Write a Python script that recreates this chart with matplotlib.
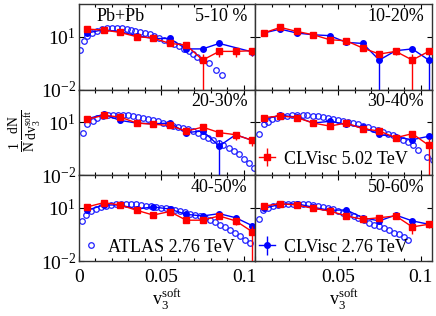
import numpy as np
import matplotlib.pyplot as plt

plt.rcParams['font.family'] = ['Liberation Serif', 'DejaVu Serif']
plt.rcParams['mathtext.fontset'] = 'stix'

centralities = ['5-10 %', '10-20%', '20-30%', '30-40%', '40-50%', '50-60%']
v3_bins = [0.005, 0.015, 0.025, 0.035, 0.045, 0.055, 0.065, 0.075, 0.085, 0.095, 0.105, 0.115]

# CLVisc 5.02 TeV, log10(1/N dN/dv3)
clv502_5_10 = [1.43, 1.38, 1.24, 1.00, 0.93, 0.62, 0.53, -0.32, 0.17, 0.17, 0.21, 0.21]
clv502_10_20 = [1.21, 1.53, 1.30, 1.11, 0.83, 0.77, 0.36, 0.02, 0.17, -0.32, 0.17, 0.13]
clv502_20_30 = [1.17, 1.40, 1.30, 0.96, 0.89, 0.83, 0.50, 0.73, 0.42, 0.30, -0.02, -0.15]
clv502_30_40 = [1.27, 1.36, 1.27, 0.96, 0.79, 0.96, 0.64, 0.51, 0.13, 0.36, -0.30, 0.10]
clv502_40_50 = [1.06, 1.30, 1.17, 0.87, 0.60, 0.80, 0.31, 0.31, 0.55, 0.27, -0.34, 0.00]
clv502_50_60 = [1.11, 1.24, 1.17, 0.98, 0.83, 0.55, 0.36, 0.45, 0.55, -0.07, 0.08, -0.10]

# relative errors (sigma / value)
err502_5_10 = [0.05, 0.05, 0.05, 0.08, 0.1, 0.15, 0.2, 1.2, 0.5, 0.5, 0.5, 0.5]
err502_10_20 = [0.05, 0.05, 0.05, 0.08, 0.1, 0.1, 0.2, 0.3, 0.4, 1.2, 0.3, 0.3]
err502_20_30 = [0.05, 0.05, 0.05, 0.08, 0.1, 0.1, 0.2, 0.3, 0.3, 0.5, 0.5, 0.5]
err502_30_40 = [0.05, 0.05, 0.05, 0.08, 0.1, 0.1, 0.2, 0.2, 0.3, 0.3, 1.2, 0.3]
err502_40_50 = [0.05, 0.05, 0.05, 0.08, 0.1, 0.1, 0.3, 0.3, 0.3, 0.4, 1.2, 0.3]
err502_50_60 = [0.05, 0.05, 0.05, 0.08, 0.1, 0.1, 0.2, 0.3, 0.3, 0.6, 0.4, 0.4]

# CLVisc 2.76 TeV
clv276_5_10 = [1.21, 1.40, 1.28, 1.06, 0.90, 0.90, 0.31, 0.31, 0.62, np.nan, 0.14, -0.10]
clv276_10_20 = [1.21, 1.43, 1.21, 1.11, 1.06, 0.68, 0.62, -0.32, 0.21, 0.31, -0.32, 0.02]
clv276_20_30 = [1.20, 1.45, 1.11, 0.96, 0.92, 0.96, 0.42, 0.51, -0.34, 0.30, -0.02, -0.15]
clv276_30_40 = [1.17, 1.40, 1.30, 0.96, 1.06, 0.89, 0.73, 0.32, 0.17, 0.02, 0.21, 0.05]
clv276_40_50 = [0.87, 1.17, 1.17, 0.94, 1.06, 0.94, 0.64, 0.55, 0.68, 0.45, 0.00, 0.00]
clv276_50_60 = [0.98, 1.21, 1.24, 1.04, 0.87, 0.89, 0.45, 0.27, 0.60, 0.27, 0.08, -0.20]

err276_5_10 = [0.05, 0.05, 0.05, 0.08, 0.1, 0.1, 0.2, 0.2, 0.2, 0.3, 0.4, 0.4]
err276_10_20 = [0.05, 0.05, 0.05, 0.08, 0.1, 0.1, 0.2, 1.2, 0.3, 0.3, 1.2, 0.3]
err276_20_30 = [0.05, 0.05, 0.05, 0.08, 0.1, 0.1, 0.2, 0.3, 1.2, 0.3, 0.3, 0.3]
err276_30_40 = [0.05, 0.05, 0.05, 0.08, 0.1, 0.1, 0.2, 0.2, 0.3, 0.3, 0.3, 0.3]
err276_40_50 = [0.05, 0.05, 0.05, 0.08, 0.1, 0.1, 0.2, 0.2, 0.3, 0.3, 0.4, 0.4]
err276_50_60 = [0.05, 0.05, 0.05, 0.08, 0.1, 0.1, 0.2, 0.2, 0.2, 0.3, 0.3, 0.3]

# ATLAS 2.76 TeV (no data shown for 10-20%)
atlas_x_5_10 = [0.0006, 0.0030, 0.0051, 0.0077, 0.0108, 0.0138, 0.0169, 0.0199, 0.0230, 0.0260,
                0.0291, 0.0317, 0.0341, 0.0372, 0.0402, 0.0429, 0.0457, 0.0484, 0.0514, 0.0545,
                0.0575, 0.0606, 0.0636, 0.0667, 0.0693, 0.0718, 0.0744, 0.0789, 0.0829, 0.0866]
atlas_5_10 = [0.25, 0.77, 1.06, 1.21, 1.34, 1.43, 1.47, 1.49, 1.49, 1.47,
              1.43, 1.40, 1.34, 1.28, 1.21, 1.13, 1.04, 0.94, 0.81, 0.70,
              0.59, 0.45, 0.30, 0.17, 0.02, -0.17, -0.32, -0.51, -0.88, -1.16]
atlas_x_20_30 = [0.0022, 0.0051, 0.0083, 0.0112, 0.0144, 0.0175, 0.0205, 0.0236, 0.0266, 0.0297,
                 0.0327, 0.0357, 0.0388, 0.0418, 0.0449, 0.0479, 0.0510, 0.0540, 0.0571, 0.0601,
                 0.0632, 0.0663, 0.0693, 0.0724, 0.0754, 0.0785, 0.0815, 0.0846, 0.0876, 0.0907,
                 0.0937, 0.0968, 0.0998, 0.1029, 0.1060]
atlas_20_30 = [0.42, 0.89, 1.08, 1.27, 1.34, 1.40, 1.40, 1.40, 1.40, 1.40,
               1.36, 1.32, 1.27, 1.21, 1.15, 1.07, 0.98, 0.89, 0.82, 0.75,
               0.68, 0.60, 0.50, 0.38, 0.25, 0.12, -0.02, -0.15, -0.30, -0.45,
               -0.62, -0.80, -1.05, -1.30, -1.60]
atlas_x_30_40 = [0.0020, 0.0051, 0.0075, 0.0102, 0.0132, 0.0163, 0.0193, 0.0224, 0.0254, 0.0285,
                 0.0315, 0.0346, 0.0376, 0.0407, 0.0437, 0.0467, 0.0498, 0.0528, 0.0559, 0.0589,
                 0.0620, 0.0650, 0.0681, 0.0711, 0.0742, 0.0772, 0.0803, 0.0833, 0.0864, 0.0894,
                 0.0925, 0.0955, 0.0986, 0.1037, 0.1077]
atlas_30_40 = [0.32, 0.89, 1.02, 1.17, 1.26, 1.34, 1.36, 1.40, 1.40, 1.40,
               1.40, 1.36, 1.34, 1.30, 1.25, 1.21, 1.15, 1.08, 1.02, 0.96,
               0.89, 0.79, 0.74, 0.64, 0.55, 0.45, 0.36, 0.27, 0.13, 0.02,
               -0.11, -0.26, -0.58, -0.96, -1.11]
atlas_x_40_50 = [0.0016, 0.0045, 0.0075, 0.0105, 0.0135, 0.0165, 0.0195, 0.0225, 0.0255, 0.0285,
                 0.0315, 0.0345, 0.0375, 0.0405, 0.0435, 0.0465, 0.0495, 0.0525, 0.0555, 0.0585,
                 0.0615, 0.0645, 0.0675, 0.0705, 0.0735, 0.0765, 0.0795, 0.0825, 0.0855, 0.0885,
                 0.0915, 0.0945, 0.0975, 0.1005, 0.1035]
atlas_40_50 = [0.27, 0.60, 0.82, 0.95, 1.05, 1.12, 1.17, 1.20, 1.22, 1.22,
               1.22, 1.20, 1.17, 1.14, 1.10, 1.06, 1.02, 0.98, 0.93, 0.88,
               0.83, 0.76, 0.68, 0.60, 0.52, 0.42, 0.30, 0.18, 0.05, -0.10,
               -0.25, -0.42, -0.60, -0.80, -1.00]
atlas_x_50_60 = [0.0020, 0.0047, 0.0075, 0.0106, 0.0136, 0.0167, 0.0197, 0.0228, 0.0258, 0.0289,
                 0.0319, 0.0350, 0.0380, 0.0411, 0.0441, 0.0472, 0.0502, 0.0533, 0.0563, 0.0594,
                 0.0624, 0.0655, 0.0685, 0.0716, 0.0746, 0.0777, 0.0807, 0.0838, 0.0868, 0.0899,
                 0.0925]
atlas_50_60 = [0.36, 0.87, 1.02, 1.11, 1.17, 1.21, 1.25, 1.25, 1.25, 1.25,
               1.21, 1.17, 1.11, 1.06, 0.98, 0.92, 0.83, 0.74, 0.64, 0.55,
               0.45, 0.32, 0.17, 0.04, -0.02, -0.11, -0.26, -0.39, -0.45, -0.64,
               -0.83]

red_sets = [clv502_5_10, clv502_10_20, clv502_20_30, clv502_30_40, clv502_40_50, clv502_50_60]
red_errs = [err502_5_10, err502_10_20, err502_20_30, err502_30_40, err502_40_50, err502_50_60]
blue_sets = [clv276_5_10, clv276_10_20, clv276_20_30, clv276_30_40, clv276_40_50, clv276_50_60]
blue_errs = [err276_5_10, err276_10_20, err276_20_30, err276_30_40, err276_40_50, err276_50_60]
atlas_sets = [(atlas_x_5_10, atlas_5_10), None, (atlas_x_20_30, atlas_20_30),
              (atlas_x_30_40, atlas_30_40), (atlas_x_40_50, atlas_40_50), (atlas_x_50_60, atlas_50_60)]

fig, axes = plt.subplots(3, 2, figsize=(4.36, 3.16), dpi=100)
fig.subplots_adjust(left=0.181, right=0.991, top=0.987, bottom=0.174, wspace=0, hspace=0)

x = np.array(v3_bins)
handles = {}
for k, ax in enumerate(axes.ravel()):
    row, col = divmod(k, 2)
    if atlas_sets[k] is not None:
        ax_x, ax_y = atlas_sets[k]
        h_at, = ax.plot(ax_x, 10 ** np.array(ax_y), 'o', ms=4, mfc='none', mec='#2020ff', mew=0.9,
                        ls='none', zorder=2)
        handles['atlas'] = h_at
    b = np.array(blue_sets[k])
    ok = ~np.isnan(b)
    bv = 10 ** b[ok]
    h_b = ax.errorbar(x[ok], bv, yerr=bv * np.array(blue_errs[k])[ok], color='#0000ff', marker='o',
                      ms=4, lw=1, elinewidth=1, capsize=0, zorder=3)
    handles['blue'] = h_b
    rv = 10 ** np.array(red_sets[k])
    h_r = ax.errorbar(x, rv, yerr=rv * np.array(red_errs[k]), color='#ff0000', marker='s',
                      ms=4, lw=1, elinewidth=1, capsize=0, zorder=4)
    handles['red'] = h_r

    ax.set_yscale('log', nonpositive='clip')
    ax.set_ylim(1e-2, 700)
    ax.set_xlim(0, 0.107)
    ax.set_yticks([1e-2, 1e1])
    ax.yaxis.set_minor_locator(plt.NullLocator())
    ax.set_xticks([0, 0.05, 0.1])
    ax.set_xticks(np.arange(0.01, 0.106, 0.01), minor=True)
    ax.tick_params(which='both', direction='in', top=True, right=True, labelsize=14, pad=2)
    ax.tick_params(axis='x', pad=6)
    ax.tick_params(which='major', length=3.5, width=0.8)
    ax.tick_params(which='minor', length=2.5, width=0.8)
    if col == 1:
        ax.tick_params(labelleft=False)
    if row < 2:
        ax.tick_params(labelbottom=False)
    elif col == 0:
        ax.set_xticklabels(['0', '0.05', '0.1'])
    else:
        ax.set_xticklabels(['', '0.05', '0.1'])
    for s in ax.spines.values():
        s.set_color('#333333')
        s.set_linewidth(1.0)
    ax.text(0.955, 0.96, centralities[k], transform=ax.transAxes, ha='right', va='top', fontsize=13)

axes[0, 0].text(0.1, 0.96, 'Pb+Pb', transform=axes[0, 0].transAxes, ha='left', va='top', fontsize=13)

for ax in axes[2]:
    ax.set_xlabel(r'$\mathregular{v_3^{soft}}$', fontsize=13, labelpad=0)

fig.text(0.058, 0.585, r'$\mathregular{\frac{1}{N}\frac{dN}{dv_3^{soft}}}$', rotation=90,
         ha='center', va='center', fontsize=14)

leg_kw = dict(loc='center left', frameon=False, fontsize=13, handlelength=0.9,
              handletextpad=0.5, borderaxespad=0, borderpad=0)
axes[1, 1].legend([handles['red']], ['CLVisc 5.02 TeV'], bbox_to_anchor=(0.02, 0.19), **leg_kw)
axes[2, 0].legend([handles['atlas']], ['ATLAS 2.76 TeV'], bbox_to_anchor=(0.02, 0.16), **leg_kw)
axes[2, 1].legend([handles['blue']], ['CLVisc 2.76 TeV'], bbox_to_anchor=(0.02, 0.16), **leg_kw)

fig.savefig('out.png', dpi=100)
